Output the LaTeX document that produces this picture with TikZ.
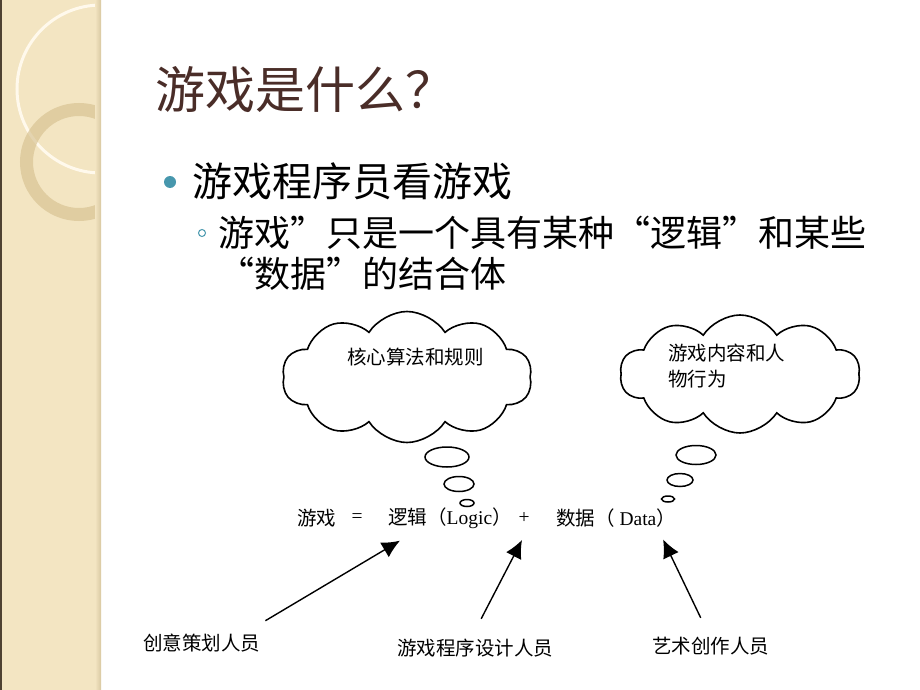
\documentclass[tikz,border=0pt]{standalone}
\usepackage{fontspec}
\setmainfont{Liberation Serif}
\newfontfamily\cjk{Noto Sans CJK SC}
\usetikzlibrary{shapes.symbols, arrows.meta}
\definecolor{stripeColor}{HTML}{F3E5C2}
\definecolor{stripeEdge}{HTML}{4E4232}
\definecolor{stripeShade}{HTML}{D8C8A2}
\definecolor{ringWhite}{HTML}{FFF9EC}
\definecolor{ringTan}{HTML}{D6C190}
\definecolor{titleColor}{HTML}{4A2D28}
\definecolor{bulletColor}{HTML}{4797AD}
\tikzstyle{slide} = [x = 1pt, y = -1pt]
\tikzstyle{titleText} = [font=\cjk\fontsize{50}{60}\selectfont, text=titleColor, anchor=west, inner sep=0]
\tikzstyle{bulletText} = [font=\cjk\fontsize{40}{48}\selectfont, anchor=west, inner sep=0]
\tikzstyle{subBulletText} = [font=\cjk\fontsize{36}{43}\selectfont, anchor=west, inner sep=0]
\tikzstyle{labelText} = [font=\cjk\fontsize{19.5}{26}\selectfont, anchor=west, inner sep=0]
\tikzstyle{mathText} = [font=\fontsize{19.5}{26}\selectfont, inner sep=0]
\tikzstyle{cloudStyle} = [cloud, draw, line width=1.6pt, cloud puffs=10, cloud puff arc=115, cloud ignores aspect, inner sep=0]
\tikzstyle{bubbleLine} = [line width=1.5pt]
\tikzstyle{pointerArrow} = [line width=1.4pt, -{Latex[length=18pt, width=17pt]}]
\newcommand{\thoughtBubble}[4]{\draw [bubbleLine] (#1,#2) ellipse [x radius=#3, y radius=#4];}

\begin{document}
\begin{tikzpicture}[slide]
\useasboundingbox (0,0) rectangle (920,690);
% left stripe
\fill [stripeColor] (0,0) rectangle (100,690);
\begin{scope}
  \clip (0,0) rectangle (100,690);
  \draw [ringWhite, line width=3pt] (101,89) circle [radius=84];
  \draw [ringTan, line width=13pt, opacity=.65] (79,162) circle [radius=52.5];
\end{scope}
\shade [left color=stripeColor, right color=stripeShade] (95,0) rectangle (101,690);
\fill [stripeEdge] (0,0) rectangle (2,690);
% title and bullets
\node [titleText] (title) at (155,90) {游戏是什么？};
\fill [bulletColor] (170,182) circle [radius=6];
\node [bulletText] (bulletMain) at (192,181) {游戏程序员看游戏};
\draw [bulletColor, line width=1pt] (202,233) circle [radius=3.5];
\node [subBulletText] (subLineA) at (218,233) {游戏”只是一个具有某种“逻辑”和某些};
\node [subBulletText] (subLineB) at (218,274) {“数据”的结合体};
% clouds
\node [cloudStyle, minimum width=250pt, minimum height=131pt] (rulesCloud) at (407,377) {};
\node [labelText] (rulesText) at (347,357) {核心算法和规则};
\node [cloudStyle, minimum width=240pt, minimum height=118pt] (contentCloud) at (740,374) {};
\node [labelText, align=left, anchor=north west] (contentText) at (668,344) {游戏内容和人\\物行为};
\thoughtBubble{447}{457}{22}{10}
\thoughtBubble{459}{484}{15}{7.5}
\thoughtBubble{467}{503}{7}{3.5}
\thoughtBubble{696}{455}{20}{9.5}
\thoughtBubble{680}{480}{13}{6.5}
\thoughtBubble{668}{499}{6.5}{3}
% equation
\node [labelText] (gameWord) at (297,518) {游戏};
\node [mathText] (eqSign) at (357,518) {=};
\node [mathText, anchor=west] (logicTerm) at (388,518) {{\cjk 逻辑（}Logic{\cjk ）}};
\node [mathText] (plusSign) at (524,518) {+};
\node [mathText, anchor=west] (dataTerm) at (556,518) {{\cjk 数据（} Data{\cjk ）}};
% roles
\node [labelText] (plannerLabel) at (143,643) {创意策划人员};
\node [labelText] (coderLabel) at (397,648) {游戏程序设计人员};
\node [labelText] (artistLabel) at (652,646) {艺术创作人员};
\draw [pointerArrow] ([shift={(5,-13)}]plannerLabel.north east) -- ([shift={(12,12)}]logicTerm.south west);
\draw [pointerArrow] ([shift={(6,-20)}]coderLabel.north) -- ([shift={(-2,22)}]plusSign.center);
\draw [pointerArrow] ([shift={(-10,-19)}]artistLabel.north) -- ([shift={(-13,12)}]dataTerm.south east);
\end{tikzpicture}
\end{document}
